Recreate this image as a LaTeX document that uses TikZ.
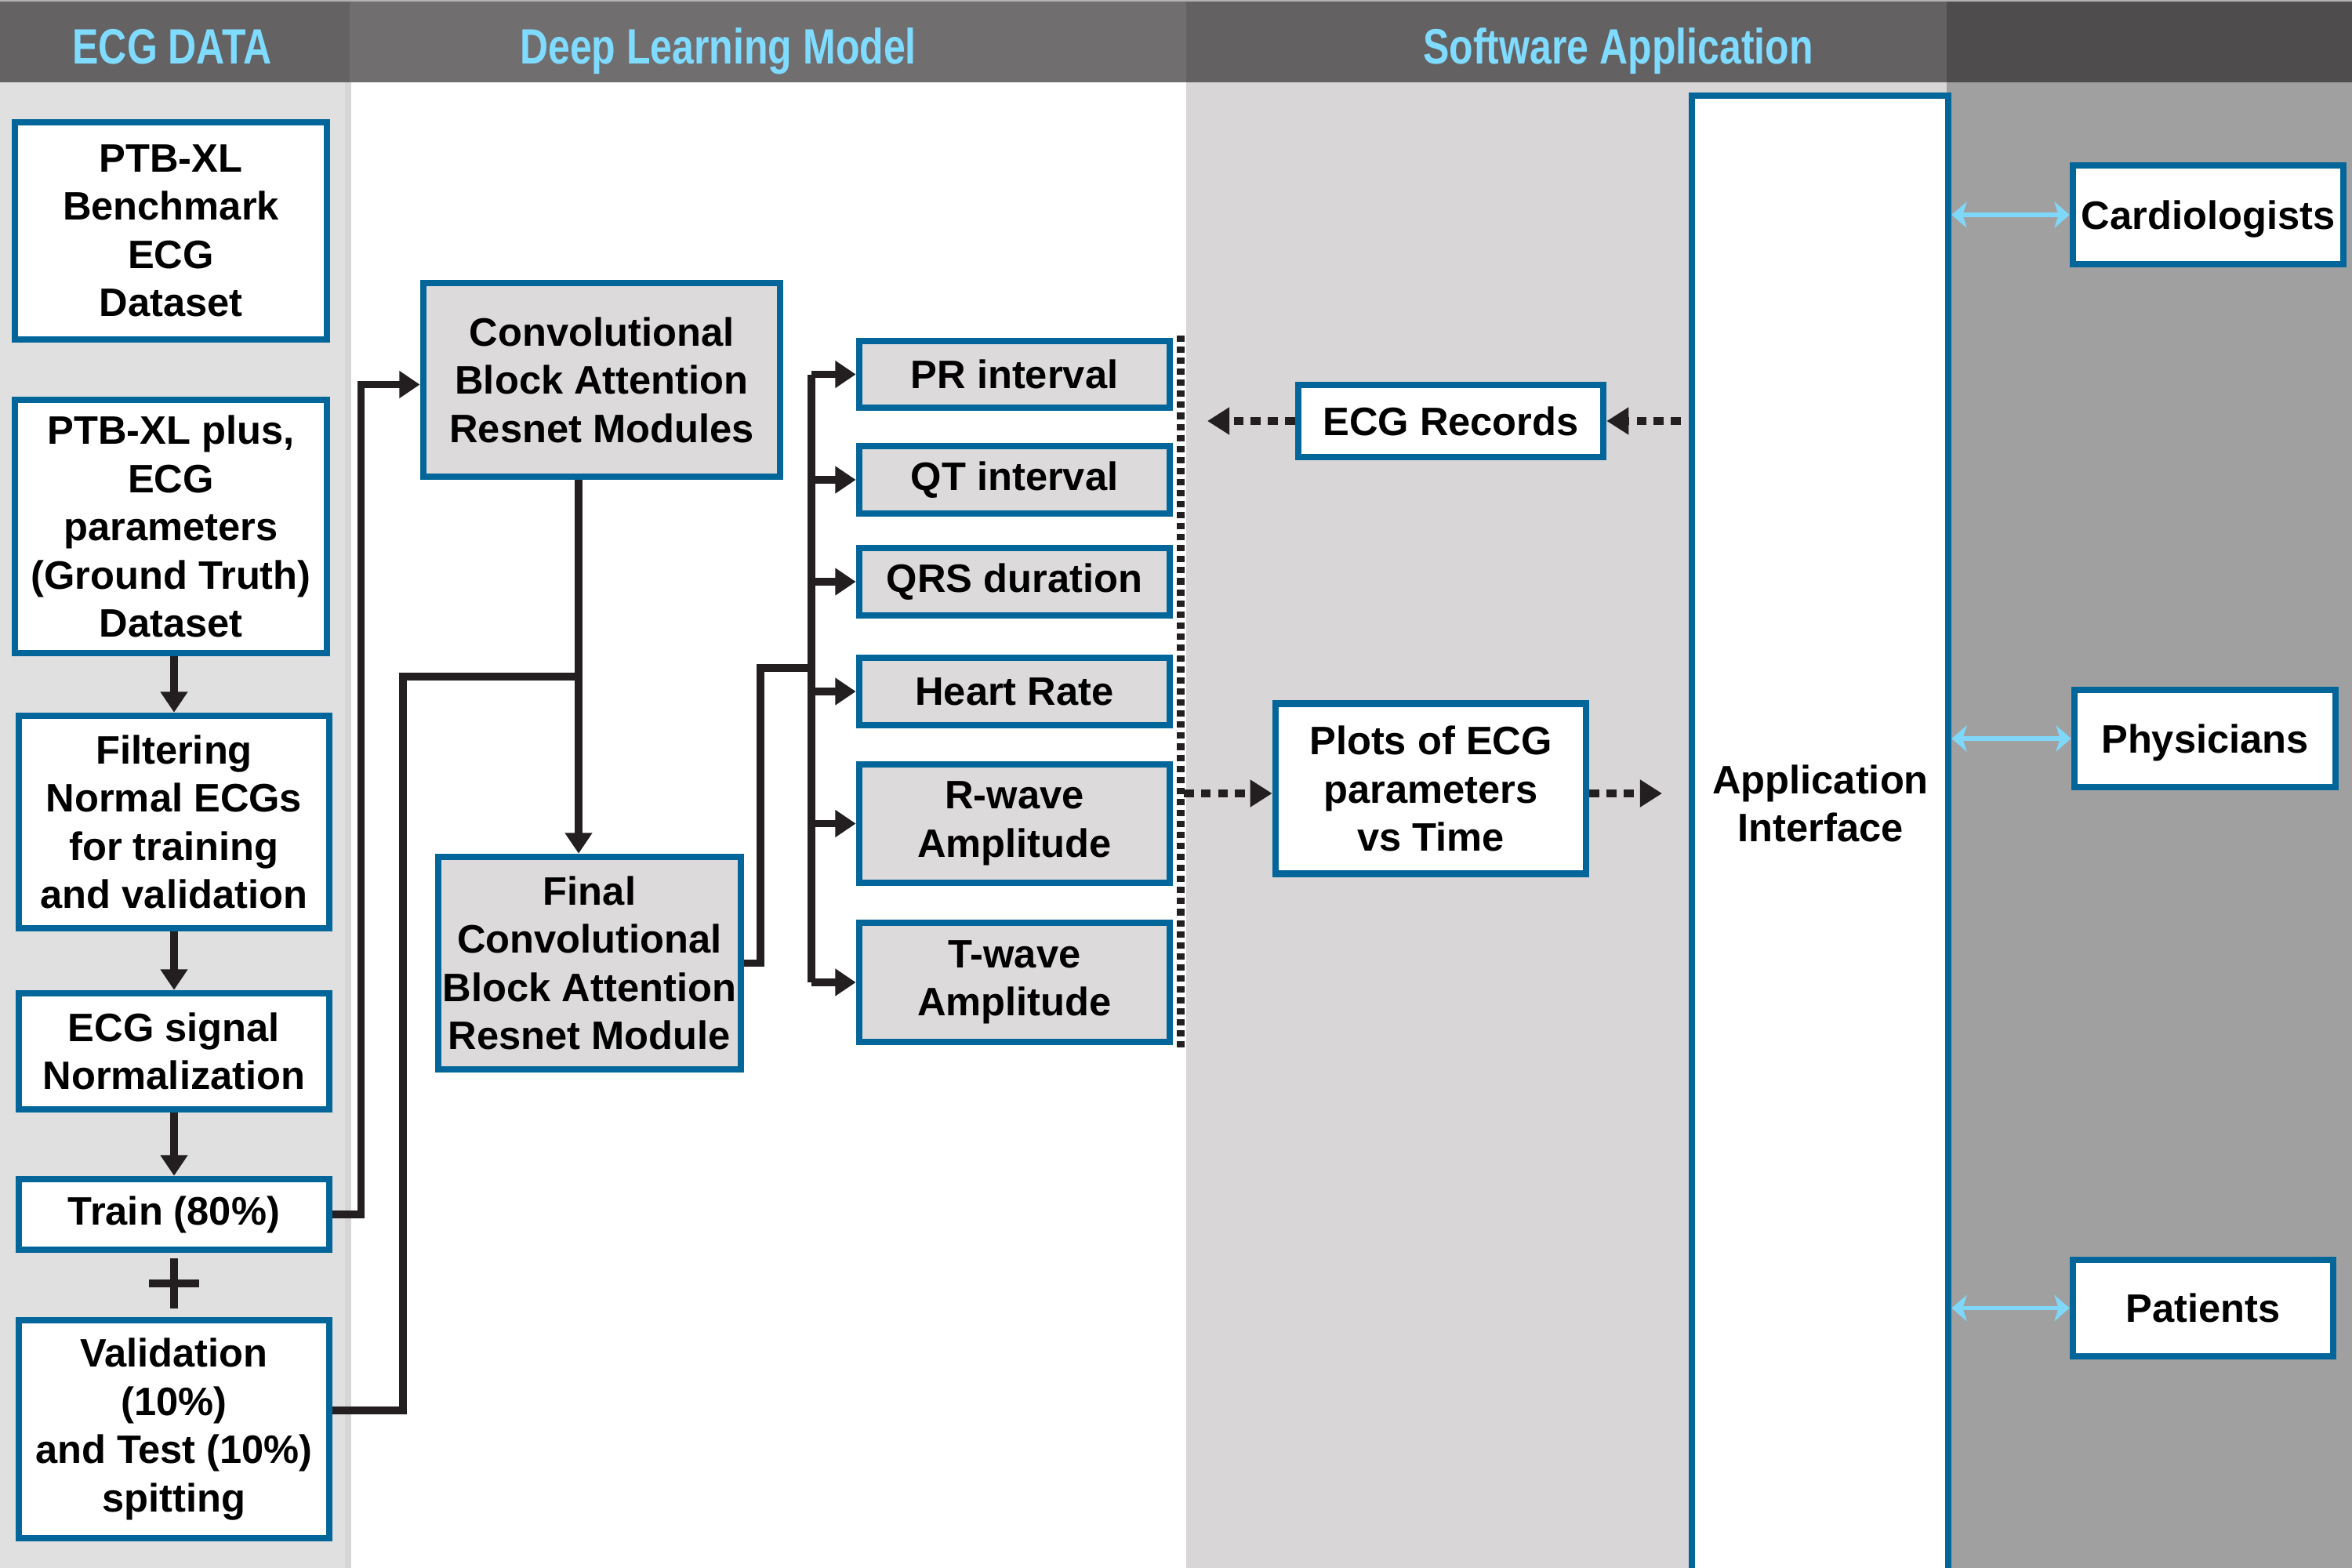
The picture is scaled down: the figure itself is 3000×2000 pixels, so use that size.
\documentclass[tikz,border=0pt]{standalone}
\usepackage{fontspec}
\setmainfont{Liberation Sans}
\newfontfamily\headfont[FakeStretch=0.79]{Liberation Sans}
\usetikzlibrary{arrows.meta,calc}
\definecolor{bblue}{HTML}{03669A}
\definecolor{boxgray}{HTML}{DCDADB}
\definecolor{lblack}{HTML}{231F20}
\definecolor{headcyan}{HTML}{7FDBFF}
\definecolor{hdA}{HTML}{656263}
\definecolor{hdB}{HTML}{706E6F}
\definecolor{hdC}{HTML}{636162}
\definecolor{hdD}{HTML}{4E4C4D}
\definecolor{bgA}{HTML}{E0E0E0}
\definecolor{bgAs}{HTML}{D6D6D6}
\definecolor{bgC}{HTML}{D8D6D7}
\definecolor{bgD}{HTML}{A0A0A0}
\definecolor{cyanb}{HTML}{7FD8FA}
\begin{document}
\begin{tikzpicture}[x=0.01cm,y=-0.01cm,
  box/.style={draw=bblue, line width=2.4pt, fill=white, inner sep=0pt, align=center,
    font=\bfseries\fontsize{14.4}{17.5}\selectfont, text=black},
  gbox/.style={box, fill=boxgray},
  ubox/.style={box, text height=10.3pt, text depth=0pt},
  txt/.style={inner sep=0pt, align=center, font=\bfseries\fontsize{14.4}{17.5}\selectfont, text=black},
  head/.style={inner sep=0pt, text=headcyan, font=\headfont\bfseries\fontsize{18}{20}\selectfont},
  line/.style={draw=lblack, line width=2.6pt, line join=miter},
  conn/.style={line, -{Triangle[length=7.5pt,width=9.5pt]}},
  dashar/.style={draw=lblack, line width=2.7pt, dash pattern=on 3.6pt off 2.6pt,
    -{Triangle[length=8pt,width=9.5pt]}},
  dotv/.style={draw=lblack, line width=2.8pt, dash pattern=on 2.3pt off 1.7pt},
  barrow/.style={draw=cyanb, line width=1.6pt,
    {Stealth[length=5.5pt,width=9.5pt,inset=1.5pt]}-{Stealth[length=5.5pt,width=9.5pt,inset=1.5pt]}}
]
\useasboundingbox (0,0) rectangle (3000,2000);
% backgrounds
\fill[bgA] (0,105) rectangle (446,2000);
\fill[bgAs] (440,105) rectangle (448,2000);
\fill[white] (448,105) rectangle (1513,2000);
\fill[bgC] (1513,105) rectangle (2483,2000);
\fill[bgD] (2483,105) rectangle (3000,2000);
\fill[hdA] (0,0) rectangle (446,105);
\fill[hdB] (446,0) rectangle (1513,105);
\fill[hdC] (1513,0) rectangle (2483,105);
\fill[hdD] (2483,0) rectangle (3000,105);
\fill[black!30] (0,0) rectangle (3000,2);
% headers
\node[head, anchor=base] (h1) at (219.5,82) {ECG DATA};
\node[head, anchor=base] (h2) at (916,82) {Deep Learning Model};
\node[head, anchor=base] (h3) at (2064,82) {Software Application};

% left column
\node[box, minimum width=3.98cm, minimum height=2.77cm] (b1) at (218,294.5) {PTB-XL\\Benchmark\\ECG\\Dataset};
\node[box, minimum width=3.98cm, minimum height=3.23cm] (b2) at (218,671.5) {PTB-XL plus,\\ECG\\parameters\\(Ground Truth)\\Dataset};
\node[box, minimum width=3.96cm, minimum height=2.71cm] (b3) at (222,1048.5) {Filtering\\Normal ECGs\\for training\\and validation};
\node[box, minimum width=3.96cm, minimum height=1.48cm] (b4) at (222,1341) {ECG signal\\Normalization};
\node[box, minimum width=3.96cm, minimum height=0.90cm] (b5) at (222,1549) {Train (80\%)};
\node[box, minimum width=3.96cm, minimum height=2.78cm] (b6) at (222,1823) {Validation\\(10\%)\\and Test (10\%)\\spitting};
\coordinate (plus) at (222,1637);
\draw[line] ($(plus)+(-32,0)$) -- ($(plus)+(32,0)$);
\draw[line] ($(plus)+(0,-32)$) -- ($(plus)+(0,32)$);

\draw[conn] (b2.south -| b3.north) -- (b3.north);
\draw[conn] (b3.south) -- (b4.north);
\draw[conn] (b4.south) -- (b5.north);

% middle column
\node[gbox, minimum width=4.55cm, minimum height=2.47cm] (cbam) at (767.5,484.5) {Convolutional\\Block Attention\\Resnet Modules};
\node[gbox, minimum width=3.86cm, minimum height=2.71cm] (final) at (752,1228.5) {Final\\Convolutional\\Block Attention\\Resnet Module};
\coordinate (j1) at (738,863);
\coordinate (bus) at (1035,852);

\draw[conn] (b5.east) -- ++(36,0) |- ($(cbam.west)+(0,6)$);
\draw[line] ($(b6.east)+(0,-24)$) -| (514,863) -- (j1);
\draw[conn] (cbam.south -| j1) -- (final.north -| j1);

\node[gbox, minimum width=3.96cm, minimum height=0.85cm] (pr) at (1294,477.5) {PR interval};
\node[gbox, minimum width=3.96cm, minimum height=0.86cm] (qt) at (1294,612) {QT interval};
\node[gbox, minimum width=3.96cm, minimum height=0.86cm] (qrs) at (1294,742) {QRS duration};
\node[gbox, minimum width=3.96cm, minimum height=0.86cm] (hr) at (1294,882) {Heart Rate};
\node[gbox, minimum width=3.96cm, minimum height=1.51cm] (rw) at (1294,1050.5) {R-wave\\Amplitude};
\node[gbox, minimum width=3.96cm, minimum height=1.52cm] (tw) at (1294,1253) {T-wave\\Amplitude};

\draw[line] (final.east) -| (970,852) -- (bus);
\draw[line] (pr.west -| bus) -- (tw.west -| bus);
\foreach \n in {pr,qt,qrs,hr,rw,tw} \draw[conn] (\n.west -| bus) -- (\n.west);

\coordinate (dtop) at (1506,428);
\coordinate (dbot) at (1506,1340);
\draw[dotv] (dtop) -- (dbot);

% software application column
\node[box, minimum width=3.27cm, minimum height=19.3cm, anchor=north] (app) at (2321.5,118) {};
\node[txt] (apptext) at (2322,1025) {Application\\Interface};

\node[box, minimum width=3.89cm, minimum height=0.92cm] (ecgrec) at (1850.5,537) {ECG Records};
\node[box, minimum width=3.96cm, minimum height=2.17cm] (plots) at (1825,1006) {Plots of ECG\\parameters\\vs Time};

\coordinate (c1) at (1540,537);
\draw[dashar, shorten <=2.8pt] (app.west |- ecgrec.east) -- (ecgrec.east);
\draw[dashar] (ecgrec.west) -- (c1);
\coordinate (p1) at (1510,1012);
\coordinate (p2) at (2120,1012);
\draw[dashar] (p1) -- (p1 -| plots.west);
\draw[dashar] (p1 -| plots.east) -- (p2);

% users
\node[ubox, minimum width=3.45cm, minimum height=1.26cm] (card) at (2816.5,274) {Cardiologists};
\node[ubox, minimum width=3.33cm, minimum height=1.24cm] (phys) at (2812.5,942) {Physicians};
\node[ubox, minimum width=3.32cm, minimum height=1.23cm] (pat) at (2810,1668.5) {Patients};

\draw[barrow] (app.east |- card.west) -- (card.west);
\draw[barrow] (app.east |- phys.west) -- (phys.west);
\draw[barrow] (app.east |- pat.west) -- (pat.west);
\end{tikzpicture}
\end{document}
